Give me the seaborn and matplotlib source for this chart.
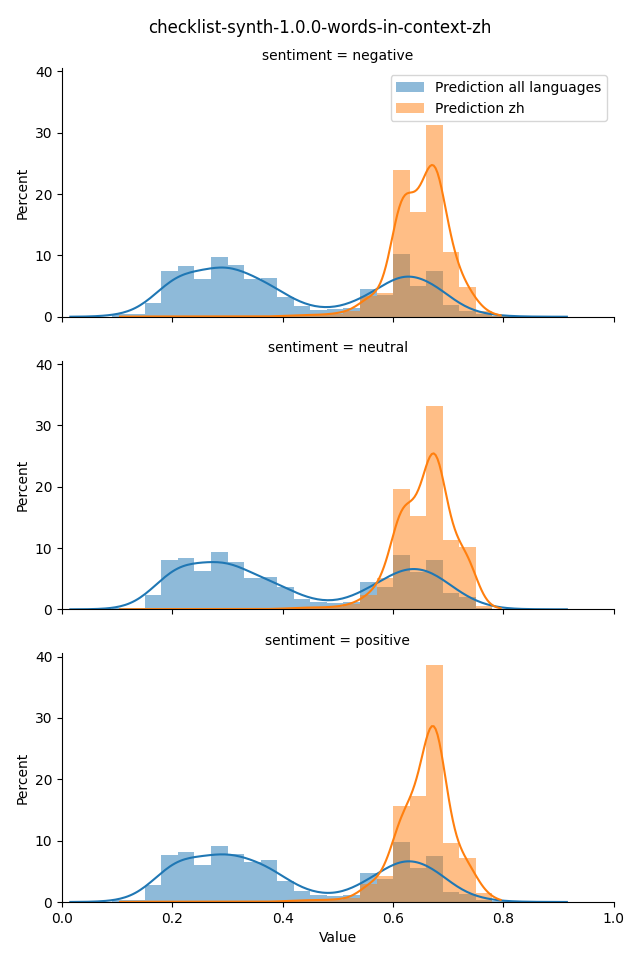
import numpy as np
import pandas as pd
import matplotlib
matplotlib.use("Agg")
import matplotlib.pyplot as plt
from matplotlib.patches import Patch
import seaborn as sns

# ---------------- data ----------------
TITLE = "checklist-synth-1.0.0-words-in-context-zh"
SENTIMENTS = ["negative", "neutral", "positive"]
SERIES = ["Prediction all languages", "Prediction zh"]

BIN_START = 0.0
BIN_WIDTH = 0.03
N_BINS = 31  # bins 0.00-0.03 ... 0.90-0.93

# percent per bin, bins starting at 0.00, 0.03, 0.06, ...
ALL_NEGATIVE = [0.02, 0, 0, 0.4, 0.5, 2.3, 7.4, 8.2, 6.1, 9.7, 8.4, 6.1, 6.3, 3.2, 1.8,
                1.1, 1.3, 1.5, 4.5, 3.5, 10.2, 5.0, 7.4, 1.9, 0.9, 0.4, 0.1, 0.05, 0.02, 0, 0.02]
ZH_NEGATIVE = [0, 0, 0, 0.02, 0.05, 0.05, 0.05, 0.05, 0.05, 0.05, 0.05, 0.05, 0.05, 0.15, 0.3,
               0.3, 0.5, 1.0, 3.4, 3.9, 23.9, 17.1, 31.2, 10.5, 4.8, 0.9, 0.05, 0, 0, 0, 0]

ALL_NEUTRAL = [0.02, 0, 0, 0.2, 0.3, 2.4, 8.1, 8.4, 6.2, 9.3, 7.8, 5.1, 5.2, 3.7, 1.7,
               1.2, 1.0, 1.2, 4.4, 3.6, 8.8, 6.1, 8.0, 2.7, 2.0, 0.3, 0.1, 0.05, 0.02, 0, 0.02]
ZH_NEUTRAL = [0, 0, 0, 0.02, 0.05, 0.05, 0.05, 0.05, 0.05, 0.05, 0.05, 0.05, 0.05, 0.15, 0.3,
              0.3, 0.4, 0.8, 2.3, 5.1, 19.6, 15.2, 33.1, 11.3, 10.2, 0.5, 0.05, 0, 0, 0, 0]

ALL_POSITIVE = [0.02, 0, 0, 0.3, 0.4, 2.7, 7.6, 8.2, 6.0, 9.2, 7.9, 6.5, 6.8, 3.4, 1.8,
                1.2, 1.0, 1.2, 4.7, 3.8, 9.8, 5.5, 7.5, 1.6, 1.3, 0.3, 0.1, 0.05, 0.02, 0, 0.02]
ZH_POSITIVE = [0, 0, 0, 0.02, 0.05, 0.05, 0.05, 0.05, 0.05, 0.05, 0.05, 0.05, 0.05, 0.15, 0.3,
               0.3, 0.4, 0.6, 3.0, 4.3, 15.7, 17.3, 38.6, 9.7, 7.1, 1.4, 0.05, 0, 0, 0, 0]

VALUES = {
    ("negative", SERIES[0]): ALL_NEGATIVE,
    ("negative", SERIES[1]): ZH_NEGATIVE,
    ("neutral", SERIES[0]): ALL_NEUTRAL,
    ("neutral", SERIES[1]): ZH_NEUTRAL,
    ("positive", SERIES[0]): ALL_POSITIVE,
    ("positive", SERIES[1]): ZH_POSITIVE,
}

# ---------------- build table ----------------
edges = BIN_START + BIN_WIDTH * np.arange(N_BINS + 1)
centers = edges[:-1] + BIN_WIDTH / 2
rows = []
for (sent, ser), vals in VALUES.items():
    for c, v in zip(centers, vals):
        if v > 0:
            rows.append({"sentiment": sent, "series": ser, "Value": c, "weight": v})
df = pd.DataFrame(rows)

palette = {SERIES[0]: "C0", SERIES[1]: "C1"}
bw_adjust = {SERIES[0]: 0.34, SERIES[1]: 0.42}

g = sns.FacetGrid(df, row="sentiment", row_order=SENTIMENTS, height=3.2, aspect=2.0,
                  sharex=True, sharey=True)
for sent, ax in g.axes_dict.items():
    for ser in SERIES:
        sub = df[(df["sentiment"] == sent) & (df["series"] == ser)]
        sns.histplot(data=sub, x="Value", weights="weight", bins=edges.tolist(), stat="count",
                     kde=True, kde_kws={"bw_adjust": bw_adjust[ser]},
                     color=palette[ser], alpha=0.5, linewidth=0, ax=ax)

g.set_titles("sentiment = {row_name}")
g.set_axis_labels("Value", "Percent")
g.set(xlim=(0, 1))

handles = [Patch(facecolor=palette[s], alpha=0.5, label=s) for s in SERIES]
g.axes[0, 0].legend(handles=handles, loc="upper right")

g.figure.suptitle(TITLE, fontsize=12)
g.figure.subplots_adjust(left=0.097, right=0.959, bottom=0.0604, top=0.929, hspace=0.177)
g.figure.savefig("out.png", dpi=100)
